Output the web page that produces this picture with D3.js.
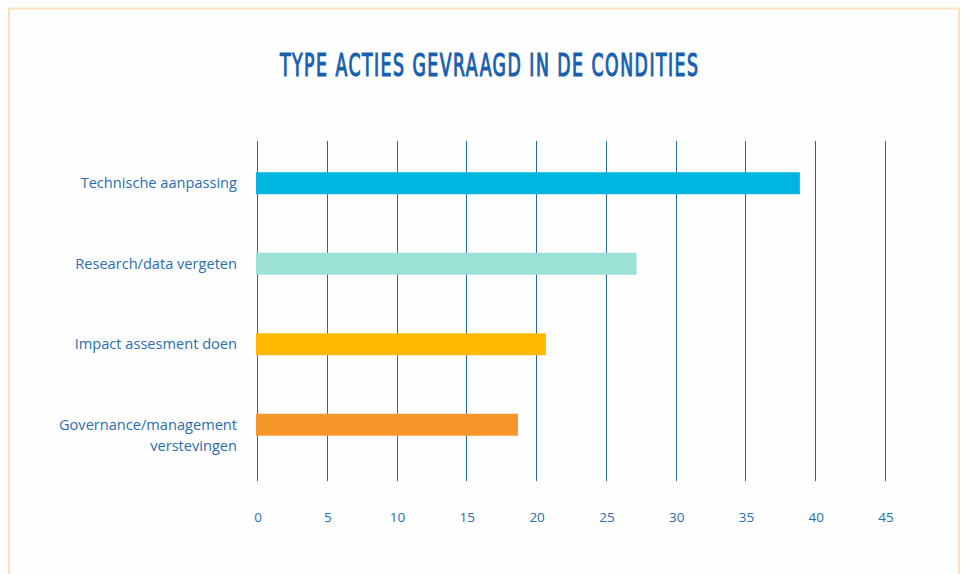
<!DOCTYPE html>
<html lang="nl">
<head>
<meta charset="UTF-8">
<title>Type acties gevraagd in de condities</title>
<script src="https://d3js.org/d3.v7.min.js"></script>
<style>
  body { margin: 0; background: #fff; }
</style>
</head>
<body>
<script>
    // categories and values
    var categories = ["Technische aanpassing", "Research/data vergeten", "Impact assesment doen", "Governance/management verstevingen"];
    var values = [38.9, 27.2, 20.7, 18.7];
    var colors = ["#00b5df", "#9ce1d6", "#ffb901", "#f7962b"];
    var ticks = [0, 5, 10, 15, 20, 25, 30, 35, 40, 45];

    var width = 961, height = 574;
    var blue = "#2a66ad";

    var svg = d3.select("body").append("svg")
        .attr("width", width)
        .attr("height", height);

    // light orange frame
    svg.append("rect")
        .attr("x", 9).attr("y", 8.5)
        .attr("width", 950).attr("height", 600)
        .attr("fill", "#fefefe")
        .attr("stroke", "#fbe1c2")
        .attr("stroke-width", 2);

    // narrow title: squeeze the glyphs, then spread them out again
    var sx = 0.6;
    svg.append("text")
        .attr("x", 489).attr("y", 76)
        .attr("text-anchor", "middle")
        .attr("font-family", "DejaVu Sans Condensed, DejaVu Sans")
        .attr("font-size", 32)
        .attr("textLength", 418 / sx)
        .attr("lengthAdjust", "spacing")
        .attr("transform", "translate(489,0) scale(" + sx + ",1) translate(-489,0)")
        .attr("fill", "#1860ad")
        .attr("stroke", "#1860ad")
        .attr("stroke-width", 1.2)
        .text("TYPE ACTIES GEVRAAGD IN DE CONDITIES");

    var x = d3.scaleLinear().domain([0, 45]).range([257, 885]);
    var y = d3.scaleBand().domain(categories).range([143, 465])
        .paddingInner(0.727).paddingOuter(0.3635);

    // vertical grid lines
    svg.append("g").selectAll("line")
        .data(ticks)
        .join("line")
        .attr("x1", d => Math.round(x(d)) + 0.5)
        .attr("x2", d => Math.round(x(d)) + 0.5)
        .attr("y1", 141).attr("y2", 481)
        .attr("stroke", blue)
        .attr("stroke-width", 1);

    // bars
    svg.append("g").selectAll("rect")
        .data(values)
        .join("rect")
        .attr("x", x(0) - 1)
        .attr("y", (d, i) => y(categories[i]))
        .attr("width", d => x(d) - x(0) + 1)
        .attr("height", y.bandwidth())
        .attr("fill", (d, i) => colors[i]);

    // category labels
    var labels = svg.append("g").selectAll("text")
        .data(categories)
        .join("text")
        .attr("x", 237)
        .attr("y", d => y(d) + y.bandwidth() / 2 + 5)
        .attr("text-anchor", "end")
        .attr("font-family", "Open Sans, sans-serif")
        .attr("font-size", 14.6)
        .attr("fill", "#2a6db4");

    labels.each(function (d) {
        var t = d3.select(this);
        if (d.indexOf("Governance") === 0) {
            t.append("tspan").attr("x", 237).text("Governance/management");
            t.append("tspan").attr("x", 237).attr("dy", 21).text("verstevingen");
        } else {
            t.text(d);
        }
    });

    // tick labels
    svg.append("g").selectAll("text")
        .data(ticks)
        .join("text")
        .attr("x", d => x(d) + 1)
        .attr("y", 522)
        .attr("text-anchor", "middle")
        .attr("font-family", "Open Sans, sans-serif")
        .attr("font-size", 13.5)
        .attr("fill", "#2a6db4")
        .text(d => d);
</script>
</body>
</html>
